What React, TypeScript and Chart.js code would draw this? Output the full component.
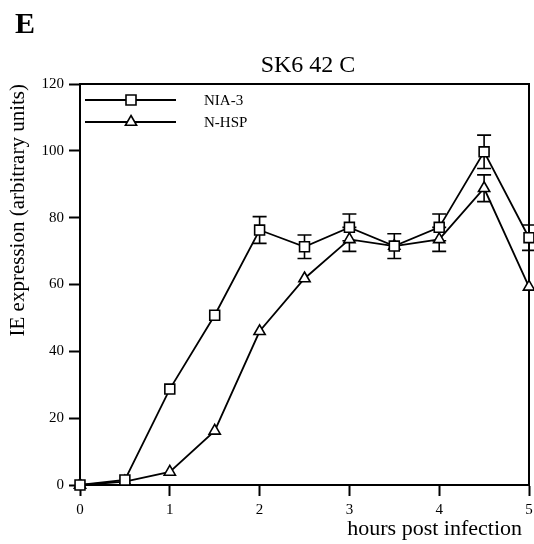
import React, { useEffect, useRef } from 'react';
import { Chart, registerables } from 'chart.js';

Chart.register(...registerables);

const hours = [0, 0.5, 1, 1.5, 2, 2.5, 3, 3.5, 4, 4.5, 5];
const nia3 = [0, 1.5, 28.7, 50.8, 76.3, 71.3, 77.1, 71.5, 77.1, 99.7, 74];
const nia3Err = [0, 0, 0, 0, 4, 3.5, 4, 3.7, 4, 5, 3.8];
const nhsp = [0, 1, 3.9, 16.2, 46, 61.8, 73.5, 71.5, 73.5, 88.8, 59.3];
const nhspErr = [0, 0, 0, 0, 0, 0, 3.6, 0, 3.6, 4, 0];
const seriesNames = ['NIA-3', 'N-HSP'];
const panelLetter = 'E';
const chartTitle = 'SK6 42 C';
const xTitle = 'hours post infection';
const yTitle = 'IE expression (arbitrary units)';

const SERIF = '"Liberation Serif", "Times New Roman", serif';

const extrasPlugin = {
  id: 'extras',
  beforeDatasetsDraw(chart: any) {
    const { ctx, chartArea } = chart;
    const xs = chart.scales.x;
    const ys = chart.scales.y;
    ctx.save();
    // frame top & right
    ctx.strokeStyle = '#000';
    ctx.lineWidth = 2;
    ctx.beginPath();
    ctx.moveTo(chartArea.left, chartArea.top);
    ctx.lineTo(chartArea.right, chartArea.top);
    ctx.lineTo(chartArea.right, chartArea.bottom);
    ctx.stroke();
    // error bars
    const errs = [nia3Err, nhspErr];
    const vals = [nia3, nhsp];
    ctx.lineWidth = 1.6;
    errs.forEach((errArr, di) => {
      errArr.forEach((e, i) => {
        if (!e) return;
        const x = xs.getPixelForValue(hours[i]);
        const yHi = ys.getPixelForValue(vals[di][i] + e);
        const yLo = ys.getPixelForValue(vals[di][i] - e);
        ctx.beginPath();
        ctx.moveTo(x, yHi);
        ctx.lineTo(x, yLo);
        ctx.moveTo(x - 7, yHi);
        ctx.lineTo(x + 7, yHi);
        ctx.moveTo(x - 7, yLo);
        ctx.lineTo(x + 7, yLo);
        ctx.stroke();
      });
    });
    ctx.restore();
  },
  afterDraw(chart: any) {
    const { ctx, chartArea } = chart;
    ctx.save();
    ctx.fillStyle = '#000';
    // panel letter
    ctx.font = `bold 30px ${SERIF}`;
    ctx.textAlign = 'left';
    ctx.textBaseline = 'alphabetic';
    ctx.fillText(panelLetter, 15, 33);
    // title
    ctx.font = `24px ${SERIF}`;
    ctx.textAlign = 'center';
    ctx.fillText(chartTitle, 308, 72);
    // x axis title
    ctx.font = `22px ${SERIF}`;
    ctx.textAlign = 'right';
    ctx.fillText(xTitle, chartArea.right - 7, 535);
    // legend
    const rows = [
      { y: chartArea.top + 16, style: 'rect' },
      { y: chartArea.top + 38, style: 'triangle' },
    ];
    rows.forEach((r, i) => {
      ctx.strokeStyle = '#000';
      ctx.lineWidth = 1.8;
      ctx.beginPath();
      ctx.moveTo(chartArea.left + 5, r.y);
      ctx.lineTo(chartArea.left + 96, r.y);
      ctx.stroke();
      ctx.fillStyle = '#fff';
      ctx.lineWidth = 1.6;
      const cx = chartArea.left + 51;
      ctx.beginPath();
      if (r.style === 'rect') {
        ctx.rect(cx - 5, r.y - 5, 10, 10);
      } else {
        ctx.moveTo(cx, r.y - 6.5);
        ctx.lineTo(cx + 5.6, r.y + 3.25);
        ctx.lineTo(cx - 5.6, r.y + 3.25);
        ctx.closePath();
      }
      ctx.fill();
      ctx.stroke();
      ctx.fillStyle = '#000';
      ctx.font = `15px ${SERIF}`;
      ctx.textAlign = 'left';
      ctx.textBaseline = 'middle';
      ctx.fillText(seriesNames[i], chartArea.left + 124, r.y + 1);
    });
    ctx.restore();
  },
};

export default function App() {
  const ref = useRef<HTMLCanvasElement | null>(null);
  useEffect(() => {
    if (!ref.current) return;
    const chart = new Chart(ref.current, {
      type: 'line',
      data: {
        datasets: [
          {
            label: seriesNames[0],
            data: hours.map((h, i) => ({ x: h, y: nia3[i] })),
            borderColor: '#000',
            borderWidth: 1.8,
            pointStyle: 'rect',
            pointRadius: 7,
            pointBorderWidth: 1.6,
            pointBackgroundColor: '#fff',
            pointBorderColor: '#000',
            clip: false,
          },
          {
            label: seriesNames[1],
            data: hours.map((h, i) => ({ x: h, y: nhsp[i] })),
            borderColor: '#000',
            borderWidth: 1.8,
            pointStyle: 'triangle',
            pointRadius: 6.5,
            pointBorderWidth: 1.6,
            pointBackgroundColor: '#fff',
            pointBorderColor: '#000',
            clip: false,
          },
        ],
      },
      options: {
        animation: false,
        responsive: false,
        maintainAspectRatio: false,
        layout: { autoPadding: false, padding: { left: 0, right: 5, top: 84, bottom: 0 } },
        plugins: { legend: { display: false }, tooltip: { enabled: false }, title: { display: false } },
        scales: {
          x: {
            type: 'linear',
            min: 0,
            max: 5,
            afterFit: (s: any) => { s.height = 59; s.paddingRight = 0; s.paddingLeft = 0; },
            border: { display: true, color: '#000', width: 2 },
            grid: { drawOnChartArea: false, drawTicks: true, tickLength: 11, tickWidth: 2, tickColor: '#000' },
            ticks: { stepSize: 1, color: '#000', padding: 5, font: { family: SERIF, size: 15 } },
          },
          y: {
            min: 0,
            max: 120,
            afterFit: (s: any) => { s.width = 80; s.paddingTop = 0; s.paddingBottom = 0; },
            border: { display: true, color: '#000', width: 2 },
            grid: { drawOnChartArea: false, drawTicks: true, tickLength: 11, tickWidth: 2, tickColor: '#000' },
            ticks: { stepSize: 20, color: '#000', padding: 5, font: { family: SERIF, size: 15 } },
            title: {
              display: true,
              text: yTitle,
              align: 'end',
              color: '#000',
              font: { family: SERIF, size: 21 },
              padding: { top: 6, bottom: 0 },
            },
          },
        },
      },
      plugins: [extrasPlugin],
    });
    return () => chart.destroy();
  }, []);
  return (
    <div style={{ position: 'absolute', left: 0, top: 0, width: 534, height: 544, background: '#fff' }}>
      <canvas ref={ref} width={534} height={544} style={{ width: 534, height: 544 }} />
    </div>
  );
}
